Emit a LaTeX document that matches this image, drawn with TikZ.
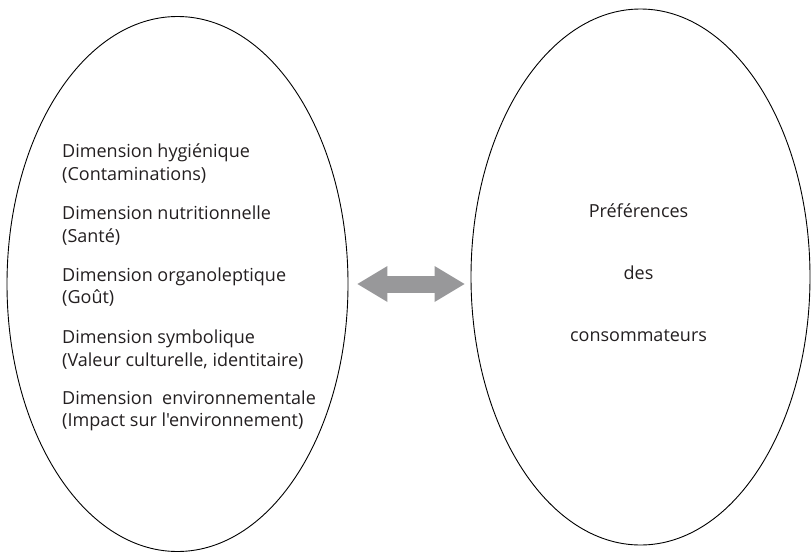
\documentclass[tikz,border=0pt]{standalone}
\usepackage{fontspec}
\setmainfont{Open Sans}[Ligatures=TeXOff]
\usepackage{tikz}
\usetikzlibrary{shapes.geometric}
\usetikzlibrary{arrows.meta}
\usepackage{color}
\definecolor{arrowgray}{RGB}{152, 152, 154}
\definecolor{inkgray}{RGB}{35, 31, 32}

\begin{document}
\begin{tikzpicture}[x=1pt, y=-1pt,
        bubble/.style={ellipse, draw=black, line width=0.9pt, inner sep=0pt},
        dimtext/.style={anchor=base west, inner sep=0pt, text=inkgray, font=\fontsize{18}{20}\selectfont},
        preftext/.style={anchor=base, inner sep=0pt, text=inkgray, font=\fontsize{18}{20}\selectfont},
        fatarrow/.style={color=arrowgray, line width=17pt,
            {Triangle[length=30pt, width=36pt, line width=0pt]}-{Triangle[length=30pt, width=36pt, line width=0pt]}}]
            % Frame to fix the page size
            \useasboundingbox                                             (0, 0) rectangle (811, 552);
            % Left bubble: dimensions
            \node[bubble, minimum width=341pt, minimum height=535pt] (dims)  at (177.5, 284) {};
            \node[dimtext] (hyg)      at (62, 157) {Dimension hygiénique};
            \node[dimtext] (hygsub)   at (62, 180) {(Contaminations)};
            \node[dimtext] (nut)      at (62, 219) {Dimension nutritionnelle};
            \node[dimtext] (nutsub)   at (62, 242) {(Santé)};
            \node[dimtext] (orga)     at (62, 281) {Dimension organoleptique};
            \node[dimtext] (orgasub)  at (62, 303) {(Goût)};
            \node[dimtext] (symb)     at (62, 343) {Dimension symbolique};
            \node[dimtext] (symbsub)  at (62, 366) {(Valeur culturelle, identitaire)};
            \node[dimtext] (envi)     at (62, 404) {Dimension\ \ environnementale};
            \node[dimtext] (envisub)  at (62, 426) {(Impact sur l'environnement)};
            % Right bubble: preferences
            \node[bubble, minimum width=339pt, minimum height=536pt] (prefs) at (640.5, 277) {};
            \node[preftext] (pref)    at (638.5, 217) {Préférences};
            \node[preftext] (des)     at (638.5, 279) {des};
            \node[preftext] (conso)   at (638.5, 341) {consommateurs};
            % Two-way link
            \draw[fatarrow, shorten <=9pt, shorten >=6pt] (dims.east) -- (dims.east -| prefs.west);
        \end{tikzpicture}
\end{document}
